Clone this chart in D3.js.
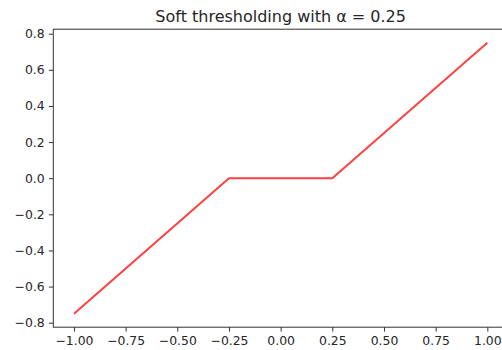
<!DOCTYPE html>
<html>
<head>
<meta charset="utf-8">
<script src="https://cdn.jsdelivr.net/npm/d3@7"></script>
<style>
  html, body { margin: 0; padding: 0; background: #fff; }
  svg { display: block; }
  text { font-family: "DejaVu Sans", sans-serif; fill: #262626; }
</style>
</head>
<body>
<svg id="chart" width="502" height="350"></svg>
<script>
// Soft-thresholding function breakpoints
const inputValues = [-1.0, -0.25, 0.25, 1.0];
const outputValues = [-0.75, 0.0, 0.0, 0.75];

const xTickValues = [-1.0, -0.75, -0.5, -0.25, 0.0, 0.25, 0.5, 0.75, 1.0];
const yTickValues = [-0.8, -0.6, -0.4, -0.2, 0.0, 0.2, 0.4, 0.6, 0.8];

const titleText = "Soft thresholding with \u03b1 = 0.25";

const svg = d3.select("#chart");

// Axes box (right edge runs past the canvas)
const box = { left: 53.3, right: 508, top: 29.2, bottom: 327.2 };

const x = d3.scaleLinear().domain([-1.1, 1.1]).range([box.left, box.right]);
const y = d3.scaleLinear().domain([-0.825, 0.825]).range([box.bottom, box.top]);

const minus = s => s.replace("-", "\u2212");

const tickLen = 4.4;
const tickPad = 4.2;

// x axis
const xAxis = d3.axisBottom(x)
  .tickValues(xTickValues)
  .tickFormat(d => minus(d3.format(".2f")(d)))
  .tickSizeInner(tickLen)
  .tickSizeOuter(0)
  .tickPadding(tickPad);

const gx = svg.append("g")
  .attr("transform", `translate(0,${box.bottom})`)
  .call(xAxis);
gx.select(".domain").remove();
gx.selectAll(".tick line").attr("stroke", "#333").attr("stroke-width", 1);
gx.selectAll(".tick text")
  .attr("font-size", "12.4px")
  .attr("font-family", "DejaVu Sans, sans-serif")
  .attr("fill", "#262626");

// y axis
const yAxis = d3.axisLeft(y)
  .tickValues(yTickValues)
  .tickFormat(d => minus(d3.format(".1f")(d)))
  .tickSizeInner(tickLen)
  .tickSizeOuter(0)
  .tickPadding(tickPad);

const gy = svg.append("g")
  .attr("transform", `translate(${box.left},0)`)
  .call(yAxis);
gy.select(".domain").remove();
gy.selectAll(".tick line").attr("stroke", "#333").attr("stroke-width", 1);
gy.selectAll(".tick text")
  .attr("font-size", "12.4px")
  .attr("font-family", "DejaVu Sans, sans-serif")
  .attr("fill", "#262626");

// Spines
svg.append("rect")
  .attr("x", box.left)
  .attr("y", box.top)
  .attr("width", box.right - box.left)
  .attr("height", box.bottom - box.top)
  .attr("fill", "none")
  .attr("stroke", "#333")
  .attr("stroke-width", 1);

// Function curve
const points = inputValues.map((v, i) => [v, outputValues[i]]);
const line = d3.line().x(d => x(d[0])).y(d => y(d[1]));

svg.append("path")
  .datum(points)
  .attr("d", line)
  .attr("fill", "none")
  .attr("stroke", "#ff2020")
  .attr("stroke-opacity", 0.85)
  .attr("stroke-width", 2)
  .attr("stroke-linejoin", "round");

// Title
svg.append("text")
  .attr("x", (box.left + box.right) / 2)
  .attr("y", box.top - 7.6)
  .attr("text-anchor", "middle")
  .attr("font-size", "16px")
  .text(titleText);
</script>
</body>
</html>
